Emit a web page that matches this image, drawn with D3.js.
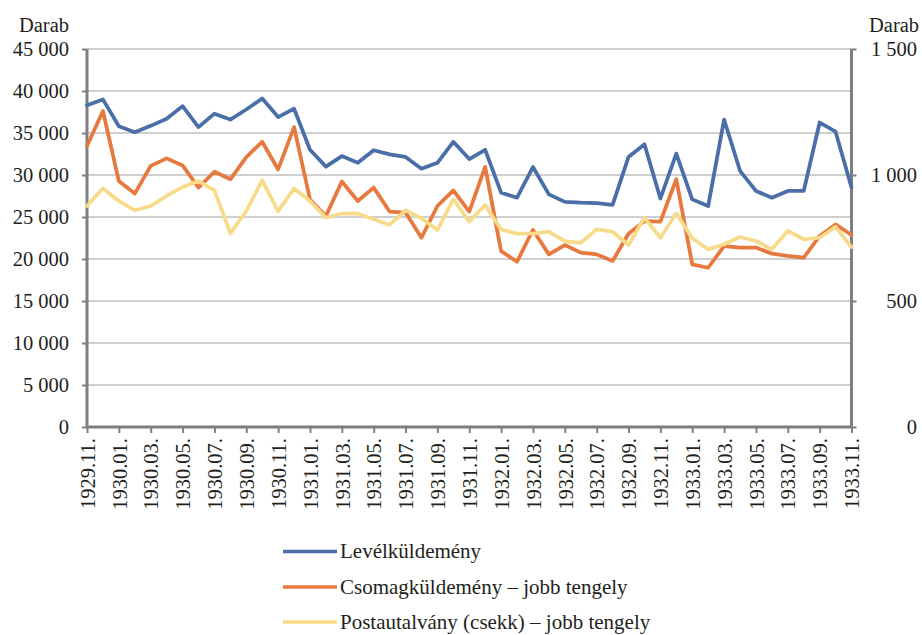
<!DOCTYPE html>
<html>
<head>
<meta charset="utf-8">
<script src="https://cdn.jsdelivr.net/npm/d3@7"></script>
<style>
  html, body { margin: 0; padding: 0; background: #ffffff; }
  svg { display: block; }
  text { font-family: "Liberation Serif", "Times New Roman", serif; fill: #231f20; }
</style>
</head>
<body>
<svg id="chart" width="922" height="635"></svg>
<script>
const categories = [
  "1929.11.","1929.12.",
  "1930.01.","1930.02.","1930.03.","1930.04.","1930.05.","1930.06.","1930.07.","1930.08.","1930.09.","1930.10.","1930.11.","1930.12.",
  "1931.01.","1931.02.","1931.03.","1931.04.","1931.05.","1931.06.","1931.07.","1931.08.","1931.09.","1931.10.","1931.11.","1931.12.",
  "1932.01.","1932.02.","1932.03.","1932.04.","1932.05.","1932.06.","1932.07.","1932.08.","1932.09.","1932.10.","1932.11.","1932.12.",
  "1933.01.","1933.02.","1933.03.","1933.04.","1933.05.","1933.06.","1933.07.","1933.08.","1933.09.","1933.10.","1933.11."
];

// Levélküldemény (left axis)
const level = [
  38300, 39000,
  35800, 35100, 35850, 36700, 38200, 35700, 37300, 36600, 37800, 39100, 36900, 37900,
  33000, 31000, 32250, 31450, 32950, 32450, 32150, 30750, 31450, 33950, 31900, 33000,
  27900, 27300, 30950, 27700, 26800, 26700, 26650, 26450, 32150, 33650, 27200, 32550,
  27100, 26300, 36600, 30500, 28100, 27300, 28100, 28100, 36250, 35150, 28500
];

// Csomagküldemény – jobb tengely (right axis)
const csomag = [
  1115, 1254,
  976, 926, 1036, 1066, 1038, 950, 1013, 983, 1071, 1132, 1022, 1190,
  903, 837, 974, 897, 950, 855, 851, 751, 877, 939, 855, 1032,
  698, 656, 782, 685, 722, 692, 685, 659, 767, 817, 815, 983,
  645, 632, 718, 712, 712, 688, 679, 672, 758, 804, 762
];

// Postautalvány (csekk) – jobb tengely (right axis)
const posta = [
  877, 947,
  897, 860, 877, 917, 952, 976, 939, 769, 857, 979, 856, 947,
  897, 831, 847, 847, 824, 802, 860, 828, 782, 903, 815, 881,
  784, 767, 767, 775, 738, 731, 784, 775, 722, 831, 751, 847,
  749, 705, 725, 754, 738, 705, 778, 745, 751, 794, 714
];

const leftTicks = [0, 5000, 10000, 15000, 20000, 25000, 30000, 35000, 40000, 45000];
const leftTickLabels = ["0", "5 000", "10 000", "15 000", "20 000", "25 000", "30 000", "35 000", "40 000", "45 000"];
const rightTicks = [0, 500, 1000, 1500];
const rightTickLabels = ["0", "500", "1 000", "1 500"];
const axisTitle = "Darab";

const seriesNames = ["Levélküldemény", "Csomagküldemény – jobb tengely", "Postautalvány (csekk) – jobb tengely"];
const seriesColors = ["#4a6ea8", "#e8793e", "#f8db8a"];

const svg = d3.select("#chart");
const plot = { left: 87, right: 851.5, top: 49, bottom: 427 };
const FS = 20.5;

const x = d3.scalePoint().domain(categories).range([plot.left, plot.right]);
const yL = d3.scaleLinear().domain([0, 45000]).range([plot.bottom, plot.top]);
const yR = d3.scaleLinear().domain([0, 1500]).range([plot.bottom, plot.top]);

const axisColor = "#7f7f7f";
const gridColor = "#bfbfbf";

// gridlines
svg.append("g").selectAll("line").data(leftTicks.filter(d => d > 0)).join("line")
  .attr("x1", plot.left).attr("x2", plot.right)
  .attr("y1", d => yL(d)).attr("y2", d => yL(d))
  .attr("stroke", gridColor).attr("stroke-width", 1.5);

// left axis
const gL = svg.append("g").attr("transform", `translate(${plot.left},0)`)
  .call(d3.axisLeft(yL).tickValues(leftTicks).tickSize(5).tickPadding(13)
    .tickFormat((d, i) => leftTickLabels[i]));
gL.select(".domain").attr("stroke", axisColor).attr("stroke-width", 3).attr("d", `M0,${plot.top}V${plot.bottom + 1}`);
gL.selectAll(".tick line").attr("stroke", axisColor).attr("stroke-width", 2);
gL.selectAll(".tick text").style("font-family", "'Liberation Serif', serif").style("font-size", FS + "px").attr("fill", "#231f20");

// right axis
const gR = svg.append("g").attr("transform", `translate(${plot.right},0)`)
  .call(d3.axisRight(yR).tickValues(rightTicks).tickSize(5).tickPadding(14)
    .tickFormat((d, i) => rightTickLabels[i]));
gR.select(".domain").attr("stroke", axisColor).attr("stroke-width", 3).attr("d", `M0,${plot.top}V${plot.bottom + 1}`);
gR.selectAll(".tick line").attr("stroke", axisColor).attr("stroke-width", 2);
gR.selectAll(".tick text").style("font-family", "'Liberation Serif', serif").style("font-size", FS + "px")
  .attr("fill", "#231f20").attr("text-anchor", "end").attr("x", 917 - plot.right);

// bottom axis
const shown = categories.filter((d, i) => i % 2 === 0);
const gB = svg.append("g").attr("transform", `translate(0,${plot.bottom})`)
  .call(d3.axisBottom(x).tickValues(shown).tickSize(6).tickSizeOuter(0));
gB.select(".domain").attr("stroke", axisColor).attr("stroke-width", 3).attr("d", `M${plot.left},0H${plot.right}`);
gB.selectAll(".tick line").attr("stroke", axisColor).attr("stroke-width", 2);
gB.selectAll(".tick text")
  .style("font-family", "'Liberation Serif', serif").style("font-size", FS + "px").attr("fill", "#231f20")
  .attr("text-anchor", "end")
  .attr("transform", "translate(0,11) rotate(-90)")
  .attr("x", 0).attr("y", 0).attr("dy", "0.35em");

// axis titles
svg.append("text").attr("x", 69).attr("y", 31.5).attr("text-anchor", "end")
  .style("font-size", FS + "px").text(axisTitle);
svg.append("text").attr("x", 869).attr("y", 31.5).attr("text-anchor", "start")
  .style("font-size", FS + "px").text(axisTitle);

// lines
const lineL = d3.line().x((d, i) => x(categories[i])).y(d => yL(d));
const lineR = d3.line().x((d, i) => x(categories[i])).y(d => yR(d));
const seriesDefs = [
  { data: level, gen: lineL },
  { data: csomag, gen: lineR },
  { data: posta, gen: lineR }
];
svg.append("g").selectAll("path").data(seriesDefs).join("path")
  .attr("d", d => d.gen(d.data))
  .attr("fill", "none")
  .attr("stroke", (d, i) => seriesColors[i])
  .attr("stroke-width", 3.75)
  .attr("stroke-linejoin", "round")
  .attr("stroke-linecap", "round");

// legend
const legend = svg.append("g");
const legY = [551.5, 587, 622];
const leg = legend.selectAll("g").data(seriesNames).join("g")
  .attr("transform", (d, i) => `translate(0,${legY[i]})`);
leg.append("line").attr("x1", 283).attr("x2", 337).attr("y1", 0).attr("y2", 0)
  .attr("stroke", (d, i) => seriesColors[i]).attr("stroke-width", 3.5);
leg.append("text").attr("x", 340).attr("y", 0).attr("dy", "0.33em")
  .style("font-size", "21px").text(d => d);
</script>
</body>
</html>
